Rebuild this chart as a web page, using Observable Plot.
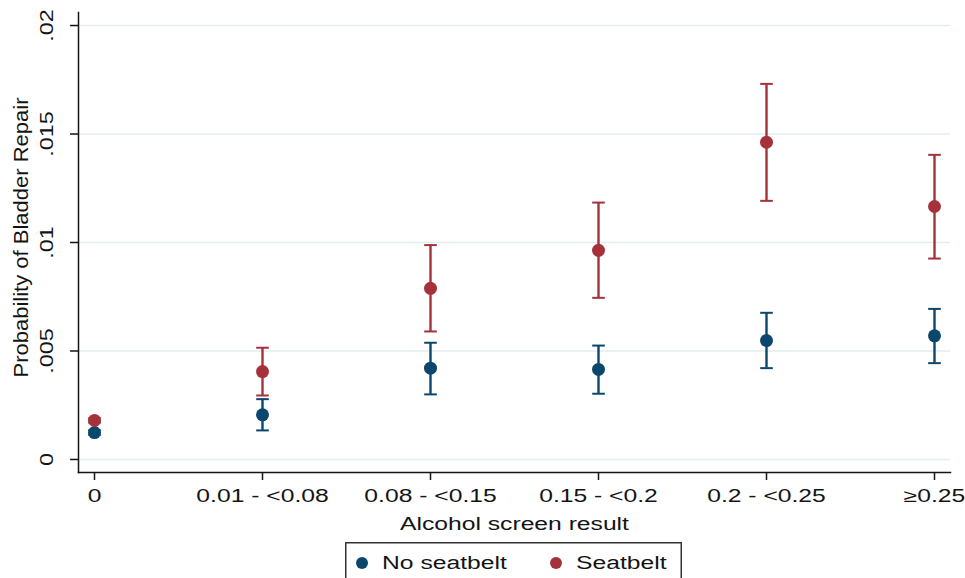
<!DOCTYPE html>
<html>
<head>
<meta charset="utf-8">
<script src="https://cdn.jsdelivr.net/npm/d3@7"></script>
<script src="https://cdn.jsdelivr.net/npm/@observablehq/plot@0.6"></script>
<style>
  html, body { margin: 0; padding: 0; background: #fff; }
  #wrap { position: relative; width: 965px; height: 578px; overflow: hidden; font-family: "Liberation Sans", Arial, sans-serif; }
  #legend { position: absolute; left: 345px; top: 542px; }
</style>
</head>
<body>
<div id="wrap"><div id="chart"></div><div id="legend"></div></div>
<script>
// ---- data ----
const categories = ["0", "0.01 - <0.08", "0.08 - <0.15", "0.15 - <0.2", "0.2 - <0.25", "\u22650.25"];
const seriesNames = ["No seatbelt", "Seatbelt"];
const noBelt   = [0.00124, 0.00206, 0.00421, 0.00415, 0.00548, 0.00570];
const noBeltLo = [0.00114, 0.00134, 0.00300, 0.00303, 0.00421, 0.00444];
const noBeltHi = [0.00134, 0.00278, 0.00538, 0.00525, 0.00676, 0.00694];
const belt     = [0.00180, 0.00405, 0.00789, 0.00964, 0.01462, 0.01166];
const beltLo   = [0.00170, 0.00295, 0.00590, 0.00745, 0.01192, 0.00926];
const beltHi   = [0.00190, 0.00515, 0.00988, 0.01184, 0.01731, 0.01404];
const yTicks = [0, 0.005, 0.01, 0.015, 0.02];
const xTitle = "Alcohol screen result";
const yTitle = "Probability of Bladder Repair";

const colors = {"No seatbelt": "#0b476d", "Seatbelt": "#a5323b"};

const rows = [];
categories.forEach((c, i) => {
  rows.push({cat: c, series: "No seatbelt", v: noBelt[i], lo: noBeltLo[i], hi: noBeltHi[i]});
});
categories.forEach((c, i) => {
  rows.push({cat: c, series: "Seatbelt", v: belt[i], lo: beltLo[i], hi: beltHi[i]});
});

const fmt = d => d === 0 ? "0" : String(d).replace(/^0\./, ".");
const capSymbol = {draw(ctx, size) { const w = Math.sqrt(size / Math.PI); ctx.moveTo(-w, 0); ctx.lineTo(w, 0); }};
const ink = "#141414";

const chart = Plot.plot({
  width: 965,
  height: 540,
  marginLeft: 78,
  marginRight: 15,
  marginTop: 12,
  marginBottom: 68,
  style: {fontFamily: "'Liberation Sans', Arial, sans-serif", fontSize: "18px", color: ink, background: "white", overflow: "visible"},
  x: {type: "point", domain: categories, padding: 0.095},
  y: {domain: [-0.0006, 0.0206]},
  color: {domain: seriesNames, range: seriesNames.map(s => colors[s])},
  marks: [
    Plot.gridY(yTicks, {stroke: "#e2edf0", strokeOpacity: 1, strokeWidth: 1.5}),
    Plot.frame({anchor: "left", stroke: ink, strokeWidth: 1.5}),
    Plot.frame({anchor: "bottom", stroke: ink, strokeWidth: 1.5}),
    Plot.axisY(yTicks, {tickSize: 8, tickFormat: () => "", label: null, stroke: ink, strokeWidth: 1.5}),
    Plot.text(yTicks, {y: d => d, text: fmt, frameAnchor: "left", textAnchor: "middle", lineAnchor: "middle", dx: -31, rotate: -90, fontSize: 18, fill: ink}),
    Plot.axisX({tickSize: 8, tickPadding: 9, label: null, fontSize: 18, stroke: ink, strokeWidth: 1.5, fill: ink}),
    Plot.text([xTitle], {frameAnchor: "bottom", textAnchor: "middle", lineAnchor: "middle", dy: 52, fontSize: 18, fill: ink}),
    Plot.text([yTitle], {frameAnchor: "left", textAnchor: "middle", lineAnchor: "middle", dx: -57, dy: -5, rotate: -90, fontSize: 20, fill: ink}),
    Plot.ruleX(rows, {x: "cat", y1: "lo", y2: "hi", stroke: "series", strokeWidth: 2.4}),
    Plot.dot(rows, {x: "cat", y: "lo", symbol: capSymbol, r: 6.3, stroke: "series", strokeWidth: 2, fill: "none"}),
    Plot.dot(rows, {x: "cat", y: "hi", symbol: capSymbol, r: 6.3, stroke: "series", strokeWidth: 2, fill: "none"}),
    Plot.dot(rows, {x: "cat", y: "v", r: 6.5, fill: "series", stroke: "none"})
  ]
});
document.getElementById("chart").appendChild(chart);

// legend
const leg = d3.create("svg").attr("width", 337).attr("height", 40)
  .style("font-family", "'Liberation Sans', Arial, sans-serif").style("font-size", "18px");
leg.append("rect").attr("x", 0.75).attr("y", 0.75).attr("width", 335.5).attr("height", 60)
  .attr("fill", "white").attr("stroke", "#333").attr("stroke-width", 1.5);
const items = [{name: seriesNames[0], cx: 17, tx: 37}, {name: seriesNames[1], cx: 211, tx: 231}];
items.forEach(it => {
  leg.append("circle").attr("cx", it.cx).attr("cy", 21).attr("r", 6).attr("fill", colors[it.name]);
  leg.append("text").attr("x", it.tx).attr("y", 21).attr("dy", "0.35em").attr("fill", ink).text(it.name);
});
document.getElementById("legend").appendChild(leg.node());

// widen glyphs along the text direction (reference font is extended)
function stretch(root) {
  root.querySelectorAll("text").forEach(t => {
    const s = t.textContent;
    if (!s) return;
    const tr = t.getAttribute("transform") || "";
    if (tr.includes("rotate")) {
      const f = s === yTitle ? 1.1 : 1.3;
      t.setAttribute("transform", tr + ` scale(${f},1)`);
    } else {
      const len = t.getComputedTextLength();
      t.setAttribute("textLength", (len * 1.37).toFixed(2));
      t.setAttribute("lengthAdjust", "spacingAndGlyphs");
    }
  });
}
stretch(chart);
stretch(leg.node());
</script>
</body>
</html>
